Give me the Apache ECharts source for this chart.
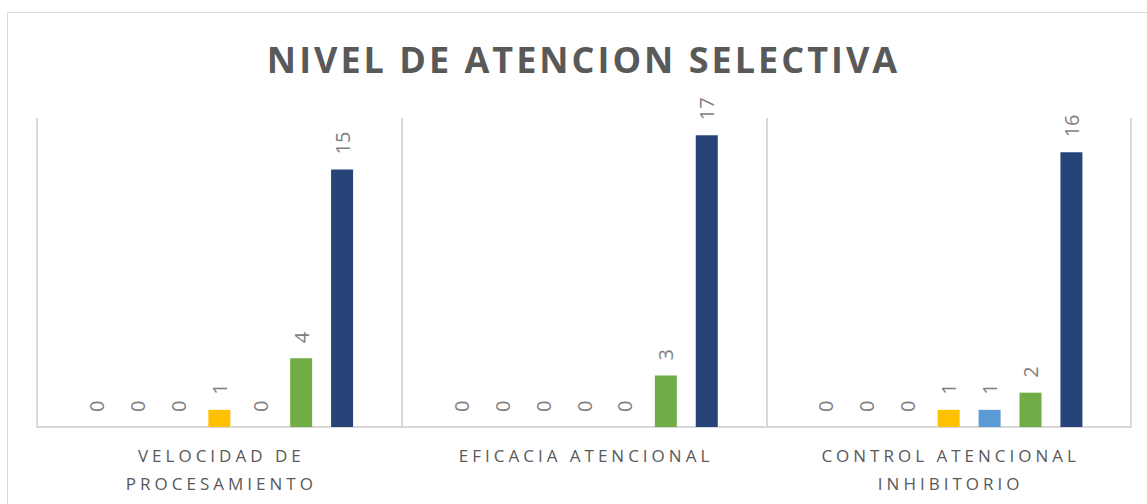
<!DOCTYPE html>
<html>
<head>
<meta charset="utf-8">
<script src="https://cdn.jsdelivr.net/npm/echarts@6/dist/echarts.min.js"></script>
<style>
html,body{margin:0;padding:0;background:#fff;}
#c{width:1147px;height:504px;}
</style>
</head>
<body>
<div id="c"></div>
<script>
const titleText = 'NIVEL DE ATENCION SELECTIVA';
const categories = ['VELOCIDAD DE\nPROCESAMIENTO', 'EFICACIA ATENCIONAL', 'CONTROL ATENCIONAL\nINHIBITORIO'];
const seriesNames = ['Serie 1', 'Serie 2', 'Serie 3', 'Serie 4', 'Serie 5', 'Serie 6', 'Serie 7'];
const seriesColors = ['#4472C4', '#ED7D31', '#A5A5A5', '#FFC000', '#5B9BD5', '#70AD47', '#264478'];
const s1 = [0, 0, 0];
const s2 = [0, 0, 0];
const s3 = [0, 0, 0];
const s4 = [1, 0, 1];
const s5 = [0, 0, 1];
const s6 = [4, 3, 2];
const s7 = [15, 17, 16];
const seriesValues = [s1, s2, s3, s4, s5, s6, s7];

const chart = echarts.init(document.getElementById('c'), null, {renderer: 'svg'});
const series = seriesNames.map((name, i) => ({
  name: name,
  type: 'bar',
  data: seriesValues[i],
  barWidth: 22,
  barGap: '86%',
  itemStyle: {color: seriesColors[i]},
  label: {
    show: true,
    position: 'top',
    rotate: 90,
    align: 'left',
    verticalAlign: 'middle',
    distance: 15,
    color: '#7F7F7F',
    fontSize: 20,
    fontFamily: 'Open Sans'
  }
}));

chart.setOption({
  animation: false,
  backgroundColor: '#fff',
  title: {
    text: titleText,
    left: 'center',
    top: 41,
    padding: 0,
    textStyle: {color: '#595959', fontSize: 36, fontWeight: 'bold', fontFamily: 'Open Sans'}
  },
  graphic: [{
    type: 'rect',
    shape: {x: 7.5, y: 12.5, width: 1200, height: 600},
    style: {fill: 'none', stroke: '#D9D9D9', lineWidth: 1},
    silent: true
  }],
  grid: {left: 37, right: 16, top: 118, bottom: 77},
  xAxis: {
    type: 'category',
    data: categories,
    axisLine: {lineStyle: {color: '#D9D9D9', width: 2}},
    axisTick: {show: false},
    splitLine: {show: true, lineStyle: {color: '#D9D9D9', width: 2}},
    axisLabel: {
      interval: 0,
      margin: 14,
      color: '#595959',
      fontSize: 17,
      lineHeight: 28,
      fontFamily: 'Open Sans'
    }
  },
  yAxis: {
    type: 'value',
    min: 0,
    max: 18,
    show: false,
    splitLine: {show: false}
  },
  series: series
});

function applySpacing() {
  const spaced = {};
  spaced[titleText] = [3, 10];
  categories.forEach(c => c.split('\n').forEach(l => { spaced[l] = [4, 2]; }));
  document.querySelectorAll('#c svg text').forEach(t => {
    const s = t.textContent.trim();
    if (spaced[s] !== undefined && !t.dataset.sp) {
      t.dataset.sp = '1';
      t.style.letterSpacing = spaced[s][0] + 'px';
      t.setAttribute('dx', spaced[s][1]);
    }
  });
}
chart.on('finished', applySpacing);
setTimeout(applySpacing, 50);
setTimeout(applySpacing, 300);
</script>
</body>
</html>
